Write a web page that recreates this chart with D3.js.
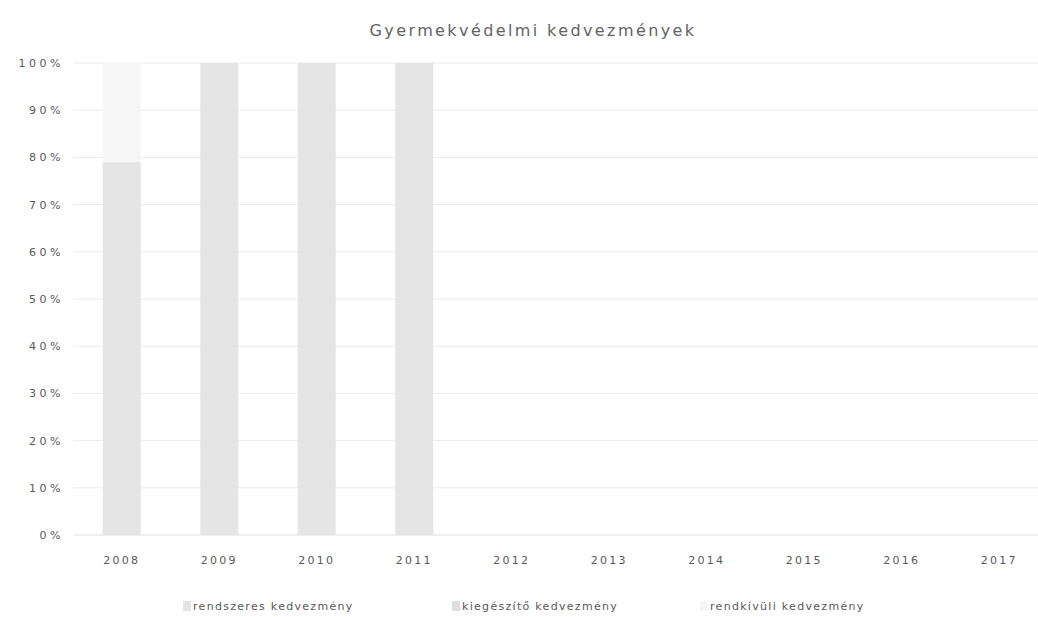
<!DOCTYPE html>
<html>
<head>
<meta charset="utf-8">
<script src="https://cdn.jsdelivr.net/npm/d3@7"></script>
<style>
  body { margin: 0; background: #fff; }
  text { font-family: "DejaVu Sans", sans-serif; fill: #595959; }
</style>
</head>
<body>
<svg id="chart" width="1038" height="617"></svg>
<script>
// data (percent of each year)
var years = ["2008", "2009", "2010", "2011", "2012", "2013", "2014", "2015", "2016", "2017"];
var seriesNames = ["rendszeres kedvezmény", "kiegészítő kedvezmény", "rendkívüli kedvezmény"];
var rendszeres = [79, 100, 100, 100, 0, 0, 0, 0, 0, 0];
var kiegeszito = [0, 0, 0, 0, 0, 0, 0, 0, 0, 0];
var rendkivuli = [21, 0, 0, 0, 0, 0, 0, 0, 0, 0];
var yTicks = [0, 10, 20, 30, 40, 50, 60, 70, 80, 90, 100];
var colors = ["#e5e5e5", "#dedede", "#f6f6f6"];

var svg = d3.select("#chart");
var margin = { top: 63, right: -10, bottom: 82, left: 73 };
var width = 1038 - margin.left - margin.right;
var height = 617 - margin.top - margin.bottom;

var rows = years.map(function(y, i) {
  return { year: y, a: rendszeres[i], b: kiegeszito[i], c: rendkivuli[i] };
});

var stack = d3.stack().keys(["a", "b", "c"]);
var layers = stack(rows);

var x = d3.scaleBand().domain(years).range([0, width]).paddingInner(0.61).paddingOuter(0.305);
var y = d3.scaleLinear().domain([0, 100]).range([height, 0]);

var g = svg.append("g").attr("transform", "translate(" + margin.left + "," + margin.top + ")");

// title
svg.append("text")
  .attr("x", 533).attr("y", 36)
  .attr("text-anchor", "middle")
  .style("font-size", "16px")
  .style("letter-spacing", "2.4px")
  .style("fill", "#636363")
  .text("Gyermekvédelmi kedvezmények");

// gridlines
g.append("g")
  .selectAll("line")
  .data(yTicks)
  .enter().append("line")
  .attr("x1", 0).attr("x2", width)
  .attr("y1", function(d) { return y(d); })
  .attr("y2", function(d) { return y(d); })
  .attr("stroke", function(d) { return d === 0 ? "#e0e0e0" : "#ececec"; })
  .attr("stroke-width", 1);

// y axis
var yAxis = g.append("g")
  .call(d3.axisLeft(y).tickValues(yTicks).tickSize(0).tickPadding(9)
    .tickFormat(function(d) { return d + "%"; }));
yAxis.select(".domain").remove();
yAxis.selectAll("text").style("font-size", "11px").style("letter-spacing", "3.5px").style("fill", "#595959");

// x axis
var xAxis = g.append("g")
  .attr("transform", "translate(0," + height + ")")
  .call(d3.axisBottom(x).tickSize(0).tickPadding(21));
xAxis.select(".domain").remove();
xAxis.selectAll("text").style("font-size", "11px").style("letter-spacing", "2.2px").style("fill", "#595959");

// bars
g.selectAll(".layer")
  .data(layers)
  .enter().append("g")
  .attr("class", "layer")
  .attr("fill", function(d, i) { return colors[i]; })
  .selectAll("rect")
  .data(function(d) { return d; })
  .enter().append("rect")
  .attr("x", function(d) { return x(d.data.year); })
  .attr("y", function(d) { return y(d[1]); })
  .attr("width", x.bandwidth())
  .attr("height", function(d) { return y(d[0]) - y(d[1]); });

// legend
var legendX = [183, 452, 700];
var legend = svg.append("g").attr("transform", "translate(0,600)");
var item = legend.selectAll("g")
  .data(seriesNames)
  .enter().append("g")
  .attr("transform", function(d, i) { return "translate(" + legendX[i] + ",0)"; });
item.append("rect")
  .attr("width", 8).attr("height", 10).attr("y", 1)
  .attr("fill", function(d, i) { return colors[i]; });
item.append("text")
  .attr("x", 10).attr("y", 10)
  .style("font-size", "11px")
  .style("letter-spacing", "1.3px")
  .text(function(d) { return d; });
</script>
</body>
</html>
